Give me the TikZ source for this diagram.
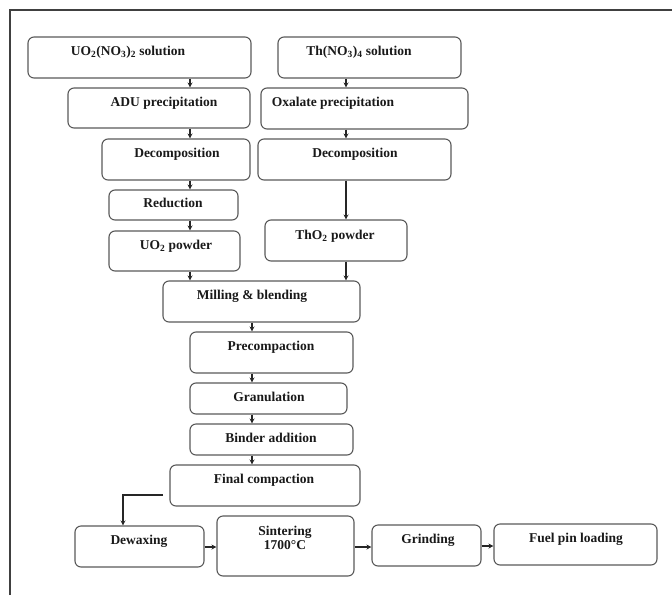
\documentclass[tikz,border=0pt]{standalone}
\usepackage{fontspec}
\setmainfont{Liberation Serif}
\usetikzlibrary{arrows.meta}
\begin{document}
\begin{tikzpicture}[x=1pt,y=-1pt,
  pbox/.style={draw=black!65,line width=1.1pt,rounded corners=6pt,inner sep=0pt},
  lbl/.style={font=\fontsize{13.5}{15}\selectfont\bfseries,text=black!90,inner sep=0pt,align=center},
  arr/.style={draw=black!85,line width=1.1pt,-{Stealth[length=5pt,width=5pt]}}]
\useasboundingbox (0,0) rectangle (672,595);
\draw[black!75,line width=2pt] (10,595) -- (10,10) -- (672,10);
% boxes
\node[pbox,minimum width=223pt,minimum height=41pt] (uno) at (139.5,57.5) {};
\node[pbox,minimum width=183pt,minimum height=41pt] (thno) at (369.5,57.5) {};
\node[pbox,minimum width=182pt,minimum height=40pt] (adu) at (159,108) {};
\node[pbox,minimum width=207pt,minimum height=41pt] (oxa) at (364.5,108.5) {};
\node[pbox,minimum width=148pt,minimum height=41pt] (decL) at (176,159.5) {};
\node[pbox,minimum width=193pt,minimum height=41pt] (decR) at (354.5,159.5) {};
\node[pbox,minimum width=129pt,minimum height=30pt] (redu) at (173.5,205) {};
\node[pbox,minimum width=131pt,minimum height=40pt] (uopow) at (174.5,251) {};
\node[pbox,minimum width=142pt,minimum height=41pt] (thpow) at (336,240.5) {};
\node[pbox,minimum width=197pt,minimum height=41pt] (mill) at (261.5,301.5) {};
\node[pbox,minimum width=163pt,minimum height=41pt] (prec) at (271.5,352.5) {};
\node[pbox,minimum width=157pt,minimum height=31pt] (gran) at (268.5,398.5) {};
\node[pbox,minimum width=163pt,minimum height=31pt] (bind) at (271.5,439.5) {};
\node[pbox,minimum width=190pt,minimum height=41pt] (fin) at (265,485.5) {};
\node[pbox,minimum width=129pt,minimum height=41pt] (dew) at (139.5,546.5) {};
\node[pbox,minimum width=137pt,minimum height=60pt] (sint) at (285.5,546) {};
\node[pbox,minimum width=109pt,minimum height=41pt] (grind) at (426.5,545.5) {};
\node[pbox,minimum width=163pt,minimum height=41pt] (fuel) at (575.5,544.5) {};
% labels
\node[lbl] (unoT) at (128,52) {UO\textsubscript{2}(NO\textsubscript{3})\textsubscript{2} solution};
\node[lbl] (thnoT) at (359,52) {Th(NO\textsubscript{3})\textsubscript{4} solution};
\node[lbl] (aduT) at (164,103) {ADU precipitation};
\node[lbl] (oxaT) at (333,103) {Oxalate precipitation};
\node[lbl] (decLT) at (177,154) {Decomposition};
\node[lbl] (decRT) at (355,154) {Decomposition};
\node[lbl] (reduT) at (173,203) {Reduction};
\node[lbl] (uopowT) at (176,246) {UO\textsubscript{2} powder};
\node[lbl] (thpowT) at (335,236) {ThO\textsubscript{2} powder};
\node[lbl] (millT) at (252,296) {Milling \& blending};
\node[lbl] (precT) at (271,347) {Precompaction};
\node[lbl] (granT) at (269,397) {Granulation};
\node[lbl] (bindT) at (271,438) {Binder addition};
\node[lbl] (finT) at (264,480) {Final compaction};
\node[lbl] (dewT) at (139,541) {Dewaxing};
\node[lbl] (sintT) at (285,538) {Sintering\\[-1pt]1700°C};
\node[lbl] (grindT) at (428,540) {Grinding};
\node[lbl] (fuelT) at (576,539) {Fuel pin loading};
% arrow columns
\coordinate (cL) at (190,0);
\coordinate (cR) at (346,0);
\coordinate (cM) at (252,0);
\draw[arr] (uno.south -| cL) -- (adu.north -| cL);
\draw[arr] (adu.south -| cL) -- (decL.north -| cL);
\draw[arr] (decL.south -| cL) -- (redu.north -| cL);
\draw[arr] (redu.south -| cL) -- (uopow.north -| cL);
\draw[arr] (uopow.south -| cL) -- (mill.north -| cL);
\draw[arr] (thno.south -| cR) -- (oxa.north -| cR);
\draw[arr] (oxa.south -| cR) -- (decR.north -| cR);
\draw[arr] (decR.south -| cR) -- (thpow.north -| cR);
\draw[arr] (thpow.south -| cR) -- (mill.north -| cR);
\draw[arr] (mill.south -| cM) -- (prec.north -| cM);
\draw[arr] (prec.south -| cM) -- (gran.north -| cM);
\draw[arr] (gran.south -| cM) -- (bind.north -| cM);
\draw[arr] (bind.south -| cM) -- (fin.north -| cM);
\coordinate (fo) at (163,495);
\coordinate (fc) at (123,495);
\draw[arr] (fo) -- (fc) -- (fc |- dew.north);
\coordinate (rowA) at (0,547);
\draw[arr] (dew.east |- rowA) -- (sint.west |- rowA);
\draw[arr] (sint.east |- rowA) -- (grind.west |- rowA);
\coordinate (rowB) at (0,546);
\draw[arr] (grind.east |- rowB) -- (fuel.west |- rowB);
\end{tikzpicture}
\end{document}
